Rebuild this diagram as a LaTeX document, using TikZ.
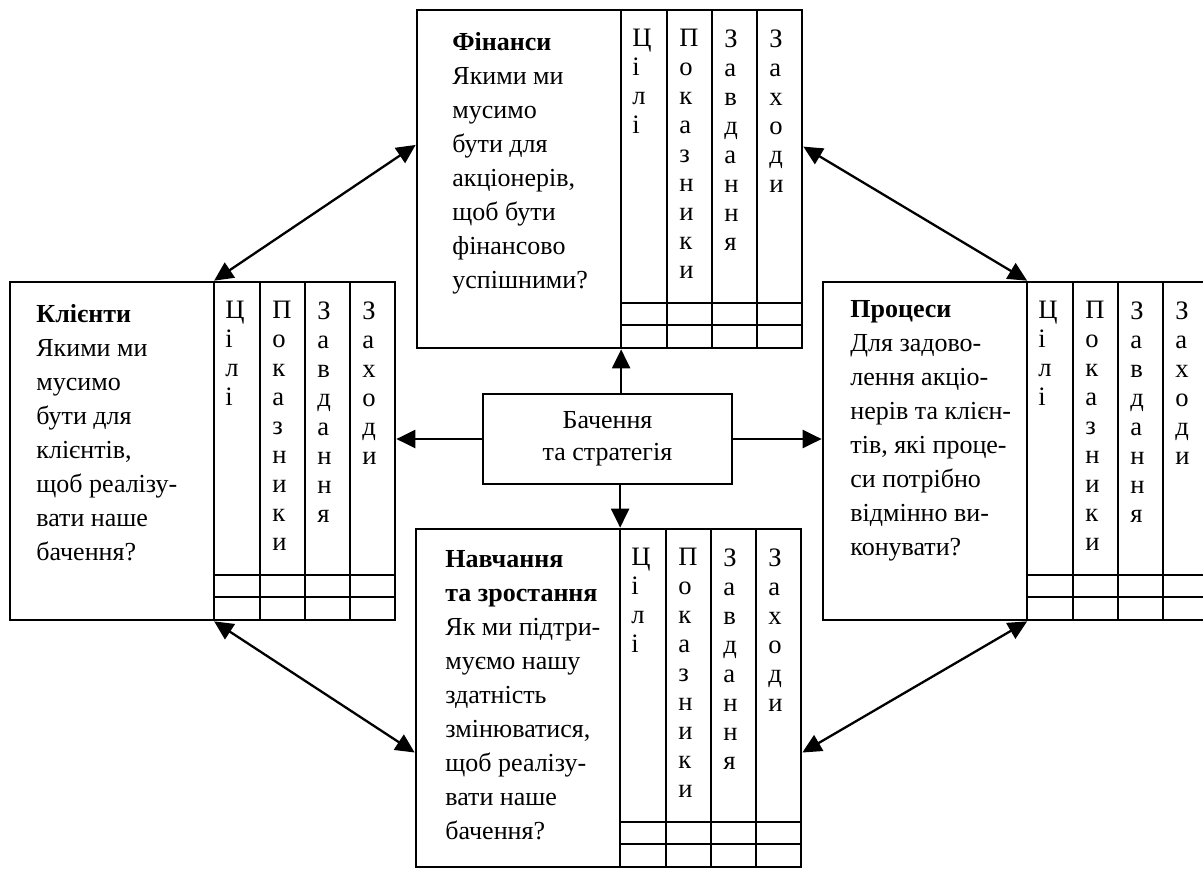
\documentclass[tikz,border=0pt]{standalone}
\usepackage{fontspec}
\setmainfont{Liberation Serif}
\usetikzlibrary{arrows.meta,fit,calc}
\newcommand\bscbox[3]{%
  \node[box, fit={(#2,#3)({#2+385},{#3+338})}] (#1) {};
  \foreach \cx in {204,250,295,340} \draw[ln] ({#2+\cx},#3) -- ({#2+\cx},{#3+338});
  \foreach \ry in {293,315} \draw[ln] ({#2+204},{#3+\ry}) -- ({#2+385},{#3+\ry});
  \node[coltext] (#1-c1) at ({#2+215},{#3+19}) {Ц\\і\\л\\і};
  \node[coltext] (#1-c2) at ({#2+262},{#3+19}) {П\\о\\к\\а\\з\\н\\и\\к\\и};
  \node[coltext] (#1-c3) at ({#2+307},{#3+19}) {З\\а\\в\\д\\а\\н\\н\\я};
  \node[coltext] (#1-c4) at ({#2+352},{#3+19}) {З\\а\\х\\о\\д\\и};
}
\begin{document}
\begin{tikzpicture}[x=0.5pt,y=-0.5pt,
  ln/.style={line width=1.35pt},
  box/.style={draw, line width=1.35pt, inner sep=0pt},
  coltext/.style={anchor=north west, inner sep=0pt, align=left, font=\fontsize{13.3}{14.5}\selectfont},
  body/.style={anchor=north west, inner sep=0pt, align=left, font=\fontsize{13}{17}\selectfont},
  arr/.style={line width=1.15pt, -{Triangle[length=9.5pt,width=9pt]}},
  arrb/.style={line width=1.15pt, {Triangle[length=9.5pt,width=9pt]}-{Triangle[length=9.5pt,width=9pt]}}]
\useasboundingbox[fill=white] (0,0) rectangle (1203,868);

\bscbox{fin}{417}{10}
\bscbox{kl}{10}{282}
\bscbox{pr}{823}{282}
\bscbox{nav}{416}{529}

\node[body] (fin-t) at (452,32) {\textbf{Фінанси}\\Якими ми\\мусимо\\бути для\\акціонерів,\\щоб бути\\фінансово\\успішними?};
\node[body] (kl-t) at (36,304) {\textbf{Клієнти}\\Якими ми\\мусимо\\бути для\\клієнтів,\\щоб реалізу-\\вати наше\\бачення?};
\node[body] (pr-t) at (850,300) {\textbf{Процеси}\\Для задово-\\лення акціо-\\нерів та клієн-\\тів, які проце-\\си потрібно\\відмінно ви-\\конувати?};
\node[body] (nav-t) at (445,550) {\textbf{Навчання}\\\textbf{та зростання}\\Як ми підтри-\\муємо нашу\\здатність\\змінюватися,\\щоб реалізу-\\вати наше\\бачення?};

\node[draw, line width=1.35pt, minimum width=124.5pt, minimum height=45pt, align=center,
  font=\fontsize{13}{16}\selectfont] (vis) at (607.5,439) {Бачення\\та стратегія};

\coordinate (fs) at ($(fin.south west)!0.53!(fin.south east)$);
\coordinate (ns) at ($(nav.north west)!0.53!(nav.north east)$);
\draw[arr] (vis.north -| fs) -- (fs);
\draw[arr] (vis.south -| ns) -- (ns);
\draw[arr] (vis.west) -- (vis.west -| kl.east);
\draw[arr] (vis.east) -- (vis.east -| pr.west);

\draw[arrb] ($(kl.north west)!0.53!(kl.north east)$) -- ($(fin.north west)!0.4!(fin.south west)$);
\draw[arrb] ($(fin.north east)!0.405!(fin.south east)$) -- ($(pr.north west)!0.53!(pr.north east)$);
\draw[arrb] ($(kl.south west)!0.53!(kl.south east)$) -- ($(nav.north west)!0.66!(nav.south west)$);
\draw[arrb] ($(pr.south west)!0.53!(pr.south east)$) -- ($(nav.north east)!0.66!(nav.south east)$);
\end{tikzpicture}
\end{document}
